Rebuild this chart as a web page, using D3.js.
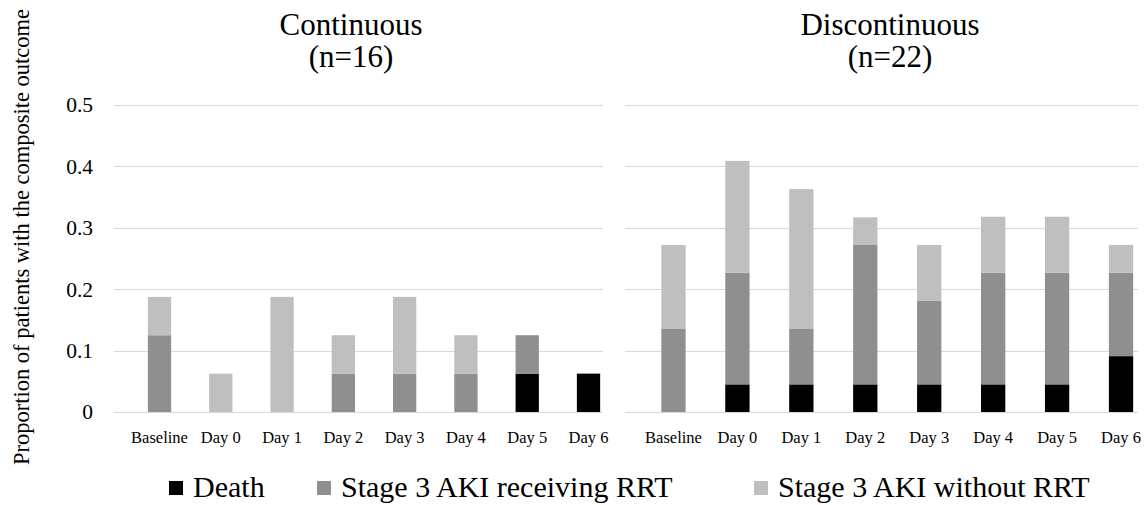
<!DOCTYPE html>
<html lang="en">
<head>
    <meta charset="UTF-8">
    <title>Composite outcome by day</title>

    <style>
        body {
            margin: 0;
            background: #fff;
        }

        .grid line {
            stroke: #d9d9d9;
            stroke-width: 1;
            shape-rendering: crispEdges;
        }
    </style>
</head>

<body>

<script src="https://d3js.org/d3.v7.min.js"></script>

<div id="chart"></div>

<script>

    // data
    var categories = ["Baseline", "Day 0", "Day 1", "Day 2", "Day 3", "Day 4", "Day 5", "Day 6"];
    var yTicks = [0, 0.1, 0.2, 0.3, 0.4, 0.5];

    var seriesNames = ["Death", "Stage 3 AKI receiving RRT", "Stage 3 AKI without RRT"];
    var seriesColors = ["#000000", "#8f8f8f", "#bfbfbf"];

    // continuous (n=16)
    var contDeath = [0, 0, 0, 0, 0, 0, 0.0625, 0.0625];
    var contRRT = [0.125, 0, 0, 0.0625, 0.0625, 0.0625, 0.0625, 0];
    var contNoRRT = [0.0625, 0.0625, 0.1875, 0.0625, 0.125, 0.0625, 0, 0];

    // discontinuous (n=22)
    var discDeath = [0, 0.045, 0.045, 0.045, 0.045, 0.045, 0.045, 0.091];
    var discRRT = [0.136, 0.182, 0.091, 0.227, 0.136, 0.182, 0.182, 0.136];
    var discNoRRT = [0.136, 0.182, 0.227, 0.045, 0.091, 0.091, 0.091, 0.045];

    var width = 1148,
        height = 505;

    var serif = "'Liberation Serif', 'Times New Roman', serif";

    var svg = d3.select("#chart").append("svg")
        .attr("width", width)
        .attr("height", height)
        .style("font-family", serif);

    // shared y scale
    var y = d3.scaleLinear()
        .domain([0, 0.5])
        .range([412, 105]);

    var panels = [
        {title: "Continuous", sub: "(n=16)", titleX: 351, grid: [114, 603], band: [128.85, 619.15],
            death: contDeath, rrt: contRRT, norrt: contNoRRT},
        {title: "Discontinuous", sub: "(n=22)", titleX: 890, grid: [625, 1138], band: [641.5, 1153],
            death: discDeath, rrt: discRRT, norrt: discNoRRT}
    ];

    var keys = ["death", "rrt", "norrt"];

    panels.forEach(function(p) {

        var rows = categories.map(function(c, i) {
            return {cat: c, death: p.death[i], rrt: p.rrt[i], norrt: p.norrt[i]};
        });

        var x = d3.scaleBand()
            .domain(categories)
            .range(p.band)
            .paddingInner(0.62)
            .paddingOuter(0.31);

        var g = svg.append("g");

        // gridlines
        g.append("g")
            .attr("class", "grid")
            .selectAll("line")
            .data(yTicks)
            .enter().append("line")
            .attr("x1", p.grid[0])
            .attr("x2", p.grid[1])
            .attr("y1", function(d) { return Math.round(y(d)) + 0.5; })
            .attr("y2", function(d) { return Math.round(y(d)) + 0.5; });

        // stacked bars
        var stack = d3.stack().keys(keys)(rows);

        g.selectAll(".layer")
            .data(stack)
            .enter().append("g")
            .attr("class", "layer")
            .attr("fill", function(d, i) { return seriesColors[i]; })
            .selectAll("rect")
            .data(function(d) { return d; })
            .enter().append("rect")
            .attr("x", function(d) { return x(d.data.cat); })
            .attr("width", x.bandwidth())
            .attr("y", function(d) { return y(d[1]); })
            .attr("height", function(d) { return y(d[0]) - y(d[1]); });

        // category labels
        var xAxis = g.append("g")
            .attr("transform", "translate(0," + 412 + ")")
            .call(d3.axisBottom(x).tickSize(0).tickPadding(0));
        xAxis.select(".domain").remove();
        xAxis.attr("font-family", serif).attr("font-size", null);
        xAxis.selectAll("text")
            .attr("dy", "31")
            .attr("fill", "#000")
            .style("font-size", "16.5px");

        // panel titles
        g.append("text")
            .attr("x", p.titleX)
            .attr("y", 35)
            .attr("text-anchor", "middle")
            .style("font-size", "31px")
            .text(p.title);

        g.append("text")
            .attr("x", p.titleX)
            .attr("y", 67)
            .attr("text-anchor", "middle")
            .style("font-size", "31px")
            .text(p.sub);
    });

    // y axis tick labels (left panel only)
    var yAxis = svg.append("g")
        .attr("transform", "translate(93,0)")
        .call(d3.axisLeft(y).tickValues(yTicks).tickSize(0).tickPadding(0)
            .tickFormat(function(d) { return d === 0 ? "0" : d3.format(".1f")(d); }));
    yAxis.select(".domain").remove();
    yAxis.attr("font-family", serif).attr("font-size", null);
    yAxis.selectAll("text")
        .attr("fill", "#000")
        .style("font-size", "21.5px");

    // y axis title
    svg.append("text")
        .attr("transform", "translate(29,237) rotate(-90)")
        .attr("text-anchor", "middle")
        .style("font-size", "22.5px")
        .text("Proportion of patients with the composite outcome");

    // legend
    var legendX = [169, 317, 754];
    var legend = svg.selectAll(".legend")
        .data(seriesNames)
        .enter().append("g")
        .attr("class", "legend")
        .attr("transform", function(d, i) { return "translate(" + legendX[i] + ",0)"; });

    legend.append("rect")
        .attr("y", 481)
        .attr("width", 14)
        .attr("height", 14)
        .attr("fill", function(d, i) { return seriesColors[i]; });

    legend.append("text")
        .attr("x", 24)
        .attr("y", 497)
        .style("font-size", "30px")
        .text(function(d) { return d; });

</script>

</body>
</html>
